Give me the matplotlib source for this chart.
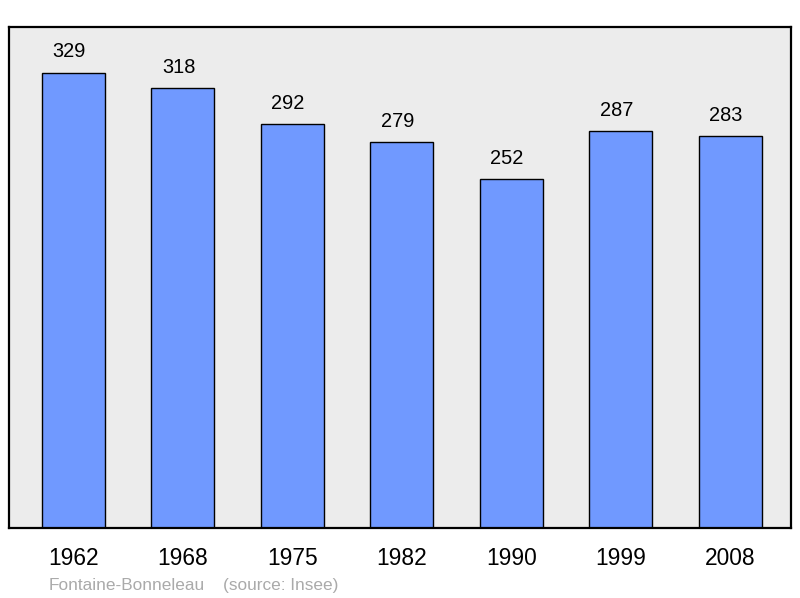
import matplotlib.pyplot as plt

years = ['1962', '1968', '1975', '1982', '1990', '1999', '2008']
population = [329, 318, 292, 279, 252, 287, 283]

plt.rcParams['font.family'] = ['Liberation Sans', 'DejaVu Sans']

fig = plt.figure(figsize=(8, 5.98), dpi=100)
ax = fig.add_axes([9 / 800, 70 / 598, 782 / 800, 501 / 598])
ax.set_facecolor('#ececec')

pos = range(len(years))
ax.bar(pos, population, width=0.575, color='#7099ff', edgecolor='black', linewidth=1)

for x, v in zip(pos, population):
    ax.annotate(str(v), (x, v), xytext=(-3, 11), textcoords='offset points',
                ha='center', va='baseline', fontsize=14.4)

ax.set_xlim(-0.586, 6.555)
ax.set_ylim(0, 362)
ax.set_yticks([])
ax.set_xticks(list(pos))
ax.set_xticklabels(years, fontsize=16.4)
ax.tick_params(axis='x', length=0, pad=14)
for s in ax.spines.values():
    s.set_linewidth(1.6)

fig.text(49 / 800, 1 - 590 / 598, 'Fontaine-Bonneleau', color='#aaaaaa', fontsize=12.4, va='baseline')
fig.text(223 / 800, 1 - 590 / 598, '(source: Insee)', color='#aaaaaa', fontsize=12.4, va='baseline')

fig.savefig('out.png', dpi=100)
